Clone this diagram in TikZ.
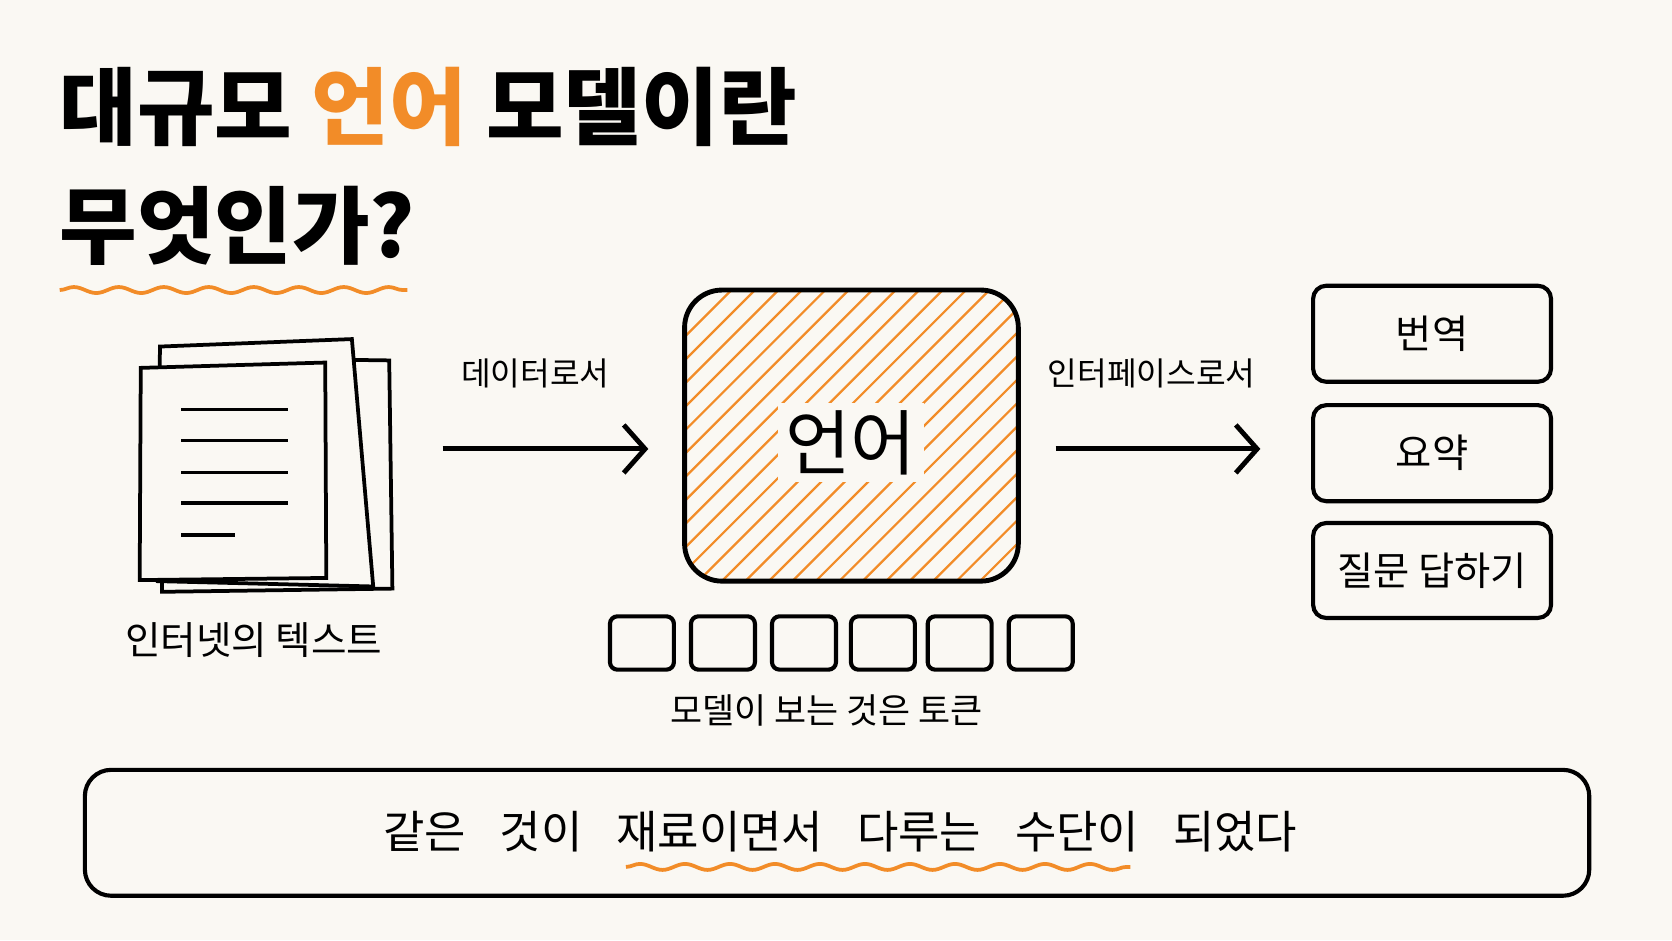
\documentclass[tikz,border=0pt]{standalone}
\usepackage{fontspec}
\setmainfont{Noto Sans CJK KR}
\usetikzlibrary{arrows.meta,decorations.pathmorphing}
\definecolor{paper}{HTML}{FAF8F3}
\definecolor{accent}{HTML}{F28C28}
\tikzset{
  box/.style={draw, line width=1.1pt, rounded corners=3.5pt},
  flow/.style={line width=1.3pt, -{Straight Barb[length=2mm,width=4.5mm,line width=1.3pt]}},
  squiggle/.style={accent, line width=1pt, decorate, decoration={snake, amplitude=0.8pt, segment length=12pt}},
  lbl/.style={font=\fontsize{8.6}{10}\selectfont}
}
\begin{document}
\begin{tikzpicture}[x=0.01cm, y=-0.01cm]
      \fill[paper] (0, 0) rectangle (1568, 882);
      \useasboundingbox (0, 0) rectangle (1568, 882);

      % title
      \node[anchor=west, inner sep=0pt, font=\fontsize{22.5}{26}\selectfont\bfseries] (title1) at (55, 100){대규모 \textcolor{accent}{언어} 모델이란};
      \node[anchor=west, inner sep=0pt, font=\fontsize{22.5}{26}\selectfont\bfseries] (title2) at (55, 212){무엇인가?};
      \draw[squiggle] (56, 272) to (382, 272);

      % documents
      \draw[line width=1pt, fill=paper] (150, 335) to (365, 338) to (368, 552) to (152, 555) -- cycle;
      \draw[line width=1pt, fill=paper] (150, 325) to (330, 318) to (350, 550) to (148, 545) -- cycle;
      \draw[line width=1pt, fill=paper] (132, 345) to (305, 340) to (306, 542) to (131, 544) -- cycle;
      \foreach \y in {384, 413, 443, 472}
        \draw[line width=1pt] (170, \y) to (270, \y);
      \draw[line width=1pt] (170, 502) to (220, 502);
      \node[font=\fontsize{10.3}{12}\selectfont] (docs) at (238, 600){인터넷의 텍스트};

      % language box
      \begin{scope}
        \clip[rounded corners=10pt] (642, 272) rectangle (955, 545);
        \foreach \i in {0, 22, ..., 620}
          \draw[accent, line width=0.6pt] (642 + \i - 273, 545) to (642 + \i, 272);
      \end{scope}
      \draw[line width=1.3pt, rounded corners=10pt] (642, 272) rectangle (955, 545);
      \node[font=\fontsize{19}{22}\selectfont, fill=paper, inner sep=2pt] (lang) at (798, 415){언어};

      % tokens
      \foreach \x in {602, 678, 754, 828, 900, 976}
        \draw[line width=1.1pt, rounded corners=2pt] (\x - 30, 578) rectangle (\x + 30, 628);
      \node[font=\fontsize{9.3}{11}\selectfont] (tok) at (775, 666){모델이 보는 것은 토큰};

      % arrows
      \coordinate (a1) at (415, 421);
      \coordinate (a2) at (608, 421);
      \draw[flow] (a1) to (a2);
      \node[lbl] at (502, 350){데이터로서};
      \coordinate (b1) at (990, 421);
      \coordinate (b2) at (1182, 421);
      \draw[flow] (b1) to (b2);
      \node[lbl] at (1080, 350){인터페이스로서};

      % uses
      \node[box, minimum width=2.23cm, minimum height=0.9cm, font=\fontsize{10.5}{12}\selectfont] (trans) at (1343, 313){번역};
      \node[box, minimum width=2.23cm, minimum height=0.9cm, font=\fontsize{10.5}{12}\selectfont] (summ) at (1343, 425){요약};
      \node[box, minimum width=2.23cm, minimum height=0.89cm, font=\fontsize{10.5}{12}\selectfont] (qa) at (1343, 535){질문 답하기};

      % bottom
      \node[box, minimum width=14.1cm, minimum height=1.18cm, rounded corners=7pt] (bottom) at (785, 781){};
      \node[font=\fontsize{12}{14}\selectfont] (msg) at (788, 780){같은\hspace{9pt}것이\hspace{9pt}재료이면서\hspace{9pt}다루는\hspace{9pt}수단이\hspace{9pt}되었다};
      \draw[squiggle] (587, 813) to (1060, 813);
    \end{tikzpicture}
\end{document}
